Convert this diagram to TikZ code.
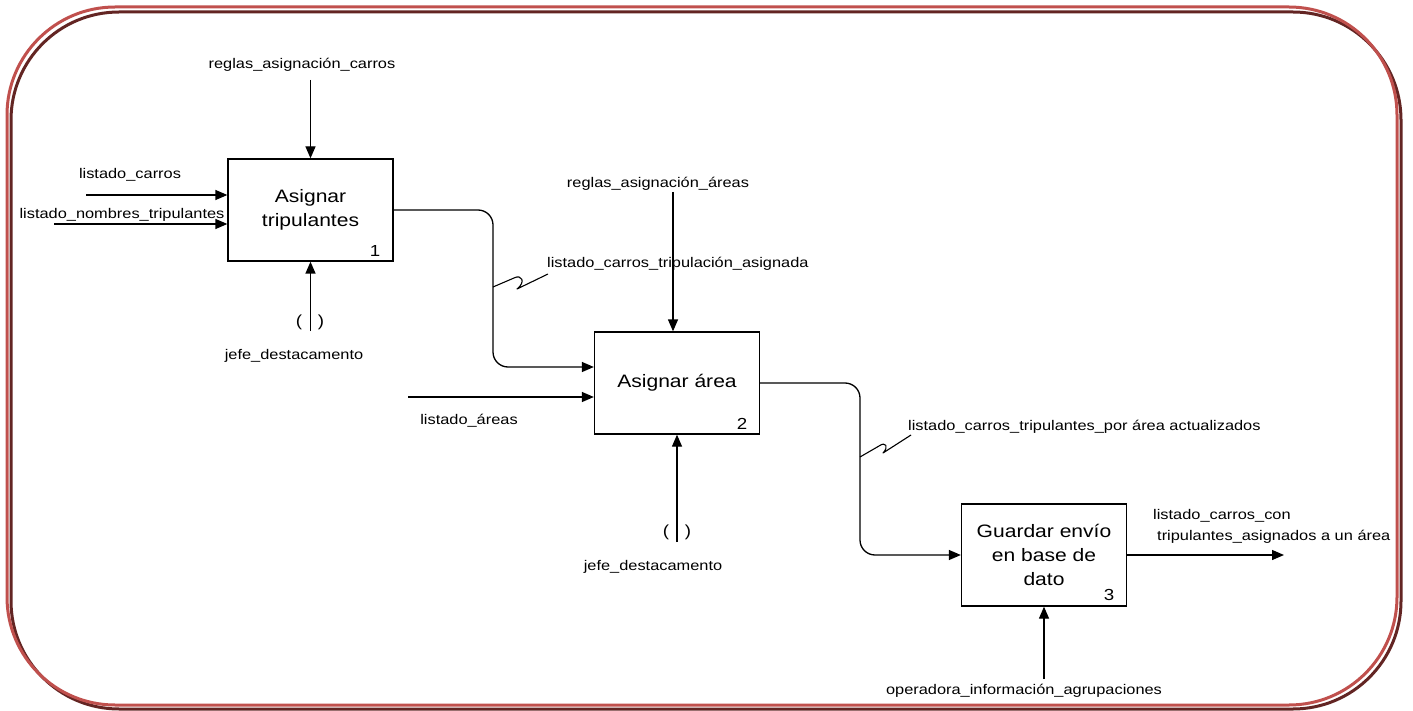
\documentclass[tikz,border=0pt]{standalone}
\usepackage{fontspec}
\setmainfont{Liberation Sans}[FakeStretch=1.17]
\usetikzlibrary{arrows.meta,calc}
\definecolor{frameRed}{HTML}{C0504D}
\definecolor{frameDark}{HTML}{632523}
\begin{document}
\begin{tikzpicture}[x=1pt,y=-1pt,
  lbl/.style={font=\fontsize{14}{17}\selectfont, inner sep=0pt},
  proc/.style={draw, line width=1.3pt, minimum width=165pt, minimum height=102pt,
               inner sep=0pt, align=center, font=\fontsize{18}{24}\selectfont},
  num/.style={font=\fontsize{16}{18}\selectfont, inner sep=0pt},
  paren/.style={font=\fontsize{16}{18}\selectfont, inner sep=0pt},
  flow/.style={line width=1.3pt, -{Triangle[length=12pt,width=10pt]}},
  squig/.style={line width=1.1pt, line join=round}]
\useasboundingbox (0,0) rectangle (1413,711);

% double frame: dark shadow line behind a red line
\draw[frameDark, line width=3pt, rounded corners=108pt] (11,12) rectangle (1401,709);
\draw[frameRed, line width=3pt, rounded corners=108pt] (7,7) rectangle (1397,705);

% activities
\node[proc] (b1) at (310.5,210) {Asignar\\tripulantes};
\node[proc] (b2) at (677,383) {Asignar área};
\node[proc] (b3) at (1044,555) {Guardar envío\\en base de\\dato};
\node[num] (n1) at (375,251) {1};
\node[num] (n2) at (742,424) {2};
\node[num] (n3) at (1109,595) {3};

% labels
\node[lbl] (lrc) at (302,65) {reglas\_asignación\_carros};
\node[lbl] (llc) at (130,175) {listado\_carros};
\node[lbl] (lnt) at (122,215) {listado\_nombres\_tripulantes};
\node[lbl] (lj1) at (294,356) {jefe\_destacamento};
\node[lbl] (lra) at (658,184) {reglas\_asignación\_áreas};
\node[lbl, anchor=west] (lct) at (547,264) {listado\_carros\_tripulación\_asignada};
\node[lbl] (lla) at (469,421) {listado\_áreas};
\node[lbl] (lj2) at (653,567) {jefe\_destacamento};
\node[lbl, anchor=west] (lcta) at (908,427) {listado\_carros\_tripulantes\_por área actualizados};
\node[lbl, anchor=west] (lout1) at (1153,516) {listado\_carros\_con};
\node[lbl, anchor=west] (lout2) at (1157,537) {tripulantes\_asignados a un área};
\node[lbl] (lop) at (1024,691) {operadora\_información\_agrupaciones};

% tunnel marks
\node[paren] (p1l) at (299,322) {(};
\node[paren] (p1r) at (321,322) {)};
\node[paren] (p2l) at (666,532) {(};
\node[paren] (p2r) at (688,532) {)};

% free ends of the boundary arrows
\coordinate (s_rc) at (310.5,80);
\coordinate (s_lc) at (86,195);
\coordinate (s_nt) at (54,224);
\coordinate (s_j1) at (310.5,331);
\coordinate (s_ra) at (673,192);
\coordinate (s_la) at (408,397);
\coordinate (s_j2) at (677,542);
\coordinate (e_out) at (1284,555);
\coordinate (s_op) at (1044,679);
\coordinate (j1) at (493,0);
\coordinate (j2) at (860,0);

% box 1
\draw[flow] (s_rc) -- (b1.north);
\draw[flow] (s_lc) -- (b1.west |- s_lc);
\draw[flow] (s_nt) -- (b1.west |- s_nt);
\draw[flow] (s_j1) -- (b1.south);

% box 1 -> box 2
\draw[flow, rounded corners=15pt] (b1.east) -- (b1.east -| j1) -- (j1 |- 0,367) -- ([yshift=16pt]b2.west);

% box 2
\draw[flow] (s_ra) -- (s_ra |- b2.north);
\draw[flow] (s_la) -- (b2.west |- s_la);
\draw[flow] (s_j2) -- (b2.south);

% box 2 -> box 3
\draw[flow, rounded corners=15pt] (b2.east) -- (b2.east -| j2) -- (j2 |- b3.west) -- (b3.west);

% box 3
\draw[flow] (b3.east) -- (e_out);
\draw[flow] (s_op) -- (b3.south);

% squiggles joining arrows to their labels
\coordinate (q1) at (493,287);
\coordinate (q2) at (860,457);
\coordinate (r1) at (548,274);
\coordinate (r2) at (911,435);
\draw[squig] (q1) -- (514,278) .. controls (522,274) and (526,282) .. (517,289) -- (r1);
\draw[squig] (q2) -- (879,446) .. controls (886,441) and (889,447) .. (883,453) -- (r2);
\end{tikzpicture}
\end{document}
